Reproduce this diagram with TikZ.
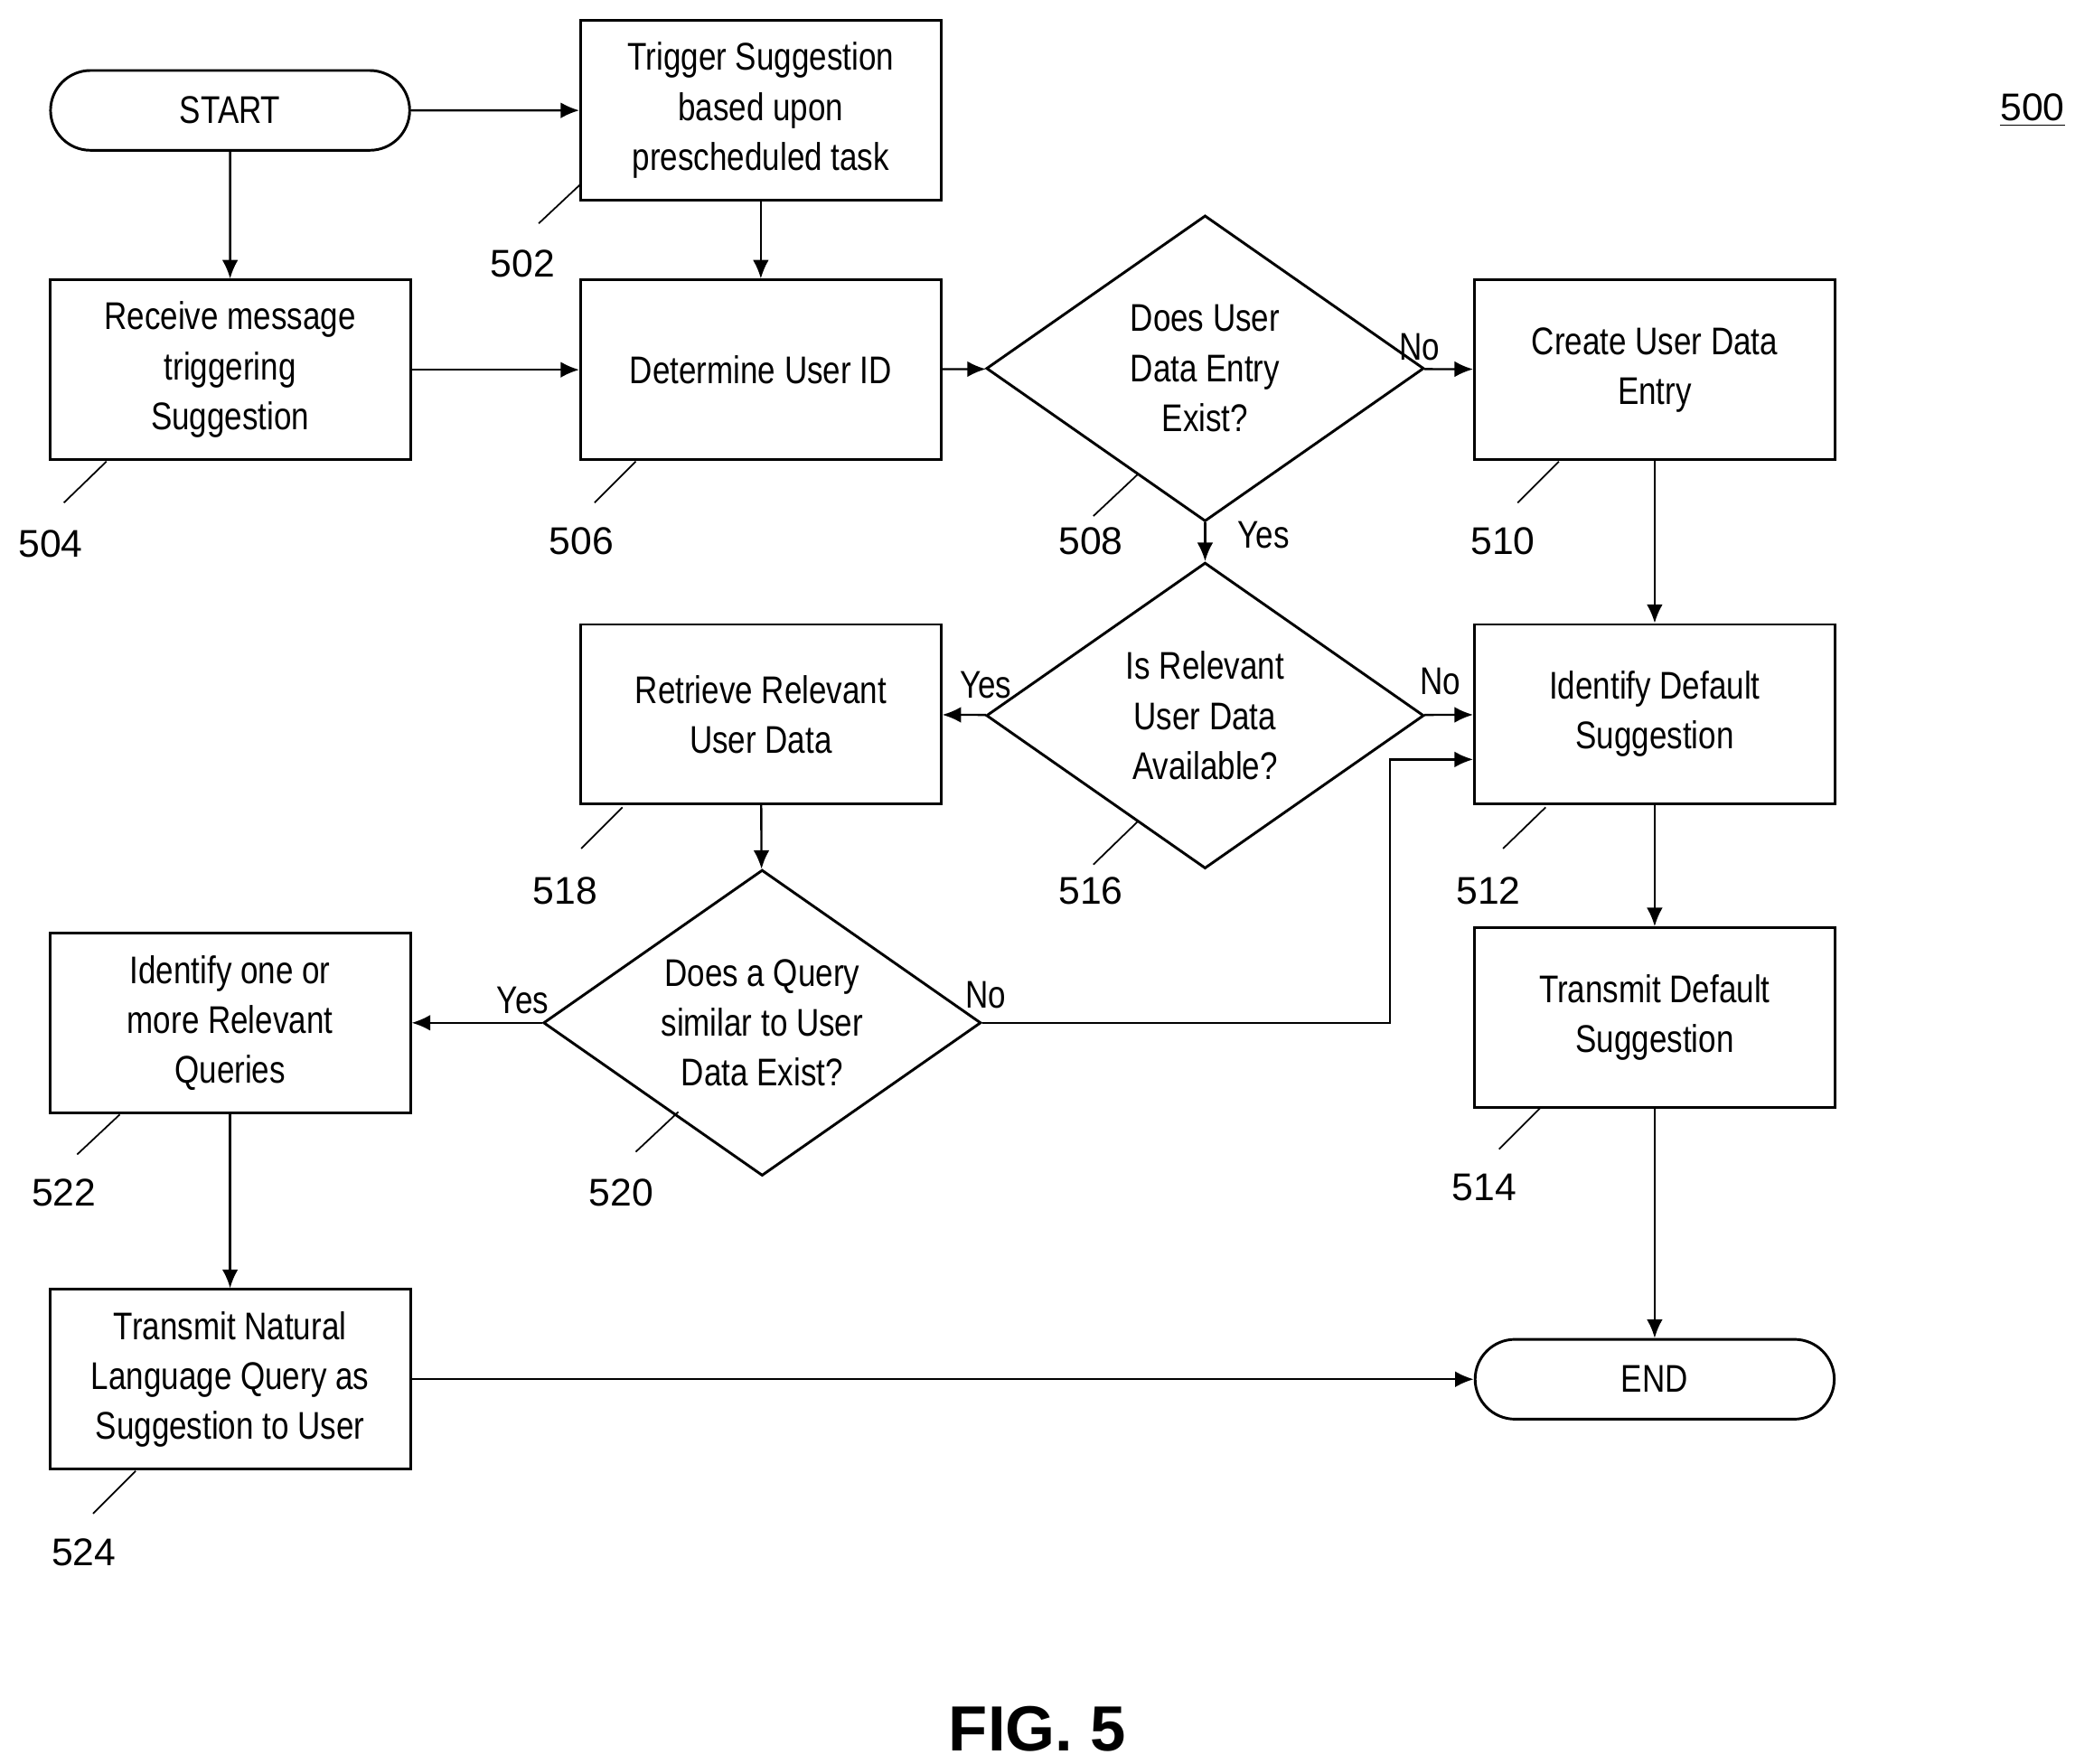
\documentclass[tikz,border=0pt]{standalone}
\usepackage{fontspec}
\setmainfont{Liberation Sans}[FakeStretch=0.82]
\newfontfamily\numfont{Liberation Sans}
\usetikzlibrary{shapes.geometric,shapes.misc,arrows.meta}
\begin{document}
\begin{tikzpicture}[x=0.5pt,y=-0.5pt,
    every node/.style={font=\fontsize{14.5}{18.75}\selectfont, align=center},
    block/.style={draw, line width=1pt, minimum width=135.5pt, minimum height=67.5pt, inner sep=0pt},
    term/.style={draw, line width=1pt, rounded rectangle, minimum width=135pt, minimum height=30pt, inner sep=0pt},
    test/.style={draw, line width=1pt, diamond, aspect=1.43, minimum width=164.5pt, minimum height=115pt, inner sep=0pt},
    num/.style={font=\numfont\fontsize{14.5}{17}\selectfont},
    answer/.style={font=\fontsize{14.5}{17}\selectfont},
    flow/.style={line width=0.8pt, -{Latex[length=7pt,width=6pt]}},
    lead/.style={line width=0.6pt}]
\useasboundingbox (0,0) rectangle (1560,1326);
% blocks
\node[term] (start) at (173,83) {START};
\node[block] (s502) at (572,83) {Trigger Suggestion\\based upon\\prescheduled task};
\node[block] (s504) at (173,278) {Receive message\\triggering\\Suggestion};
\node[block] (s506) at (572,278) {Determine User ID};
\node[test] (s508) at (906,277) {Does User\\Data Entry\\Exist?};
\node[block] (s510) at (1244,278) {Create User Data\\Entry};
\node[test] (s516) at (906,538) {Is Relevant\\User Data\\Available?};
\node[block] (s518) at (572,537) {Retrieve Relevant\\User Data};
\node[block] (s512) at (1244,537) {Identify Default\\Suggestion};
\node[test] (s520) at (573,769) {Does a Query\\similar to User\\Data Exist?};
\node[block] (s522) at (173,769) {Identify one or\\more Relevant\\Queries};
\node[block] (s514) at (1244,765) {Transmit Default\\Suggestion};
\node[block] (s524) at (173,1037) {Transmit Natural\\Language Query as\\Suggestion to User};
\node[term] (stop) at (1244,1037) {END};
% connectors
\draw[flow] (start) -- (s502);
\draw[flow] (start) -- (s504);
\draw[flow] (s502) -- (s506);
\draw[flow] (s504) -- (s506);
\draw[flow] (s506) -- (s508);
\draw[flow] (s508) -- (s510);
\draw[flow] (s508) -- (s516);
\draw[flow] (s510) -- (s512);
\draw[flow] (s516) -- (s512);
\draw[flow] (s516) -- (s518);
\draw[flow] (s518) -- (s520);
\draw[flow] (s520) -- (s522);
\coordinate (bend) at (1045,571);
\draw[flow] (s520.east) -| (bend) -- (s512.west |- bend);
\draw[flow] (s512) -- (s514);
\draw[flow] (s514) -- (stop);
\draw[flow] (s522) -- (s524);
\draw[flow] (s524) -- (stop);
% answers
\node[answer] (y508) at (950,402) {Yes};
\node[answer] (n508) at (1067,261) {No};
\node[answer] (y516) at (741,515) {Yes};
\node[answer] (n516) at (1083,512) {No};
\node[answer] (y520) at (393,752) {Yes};
\node[answer] (n520) at (741,748) {No};
% reference numbers
\foreach \lbl/\ax/\ay/\bx/\by/\tx/\ty in {502/437/138/405/168/393/198, 504/80/347/48/378/38/409,
    506/478/347/447/378/437/407, 508/855/357/822/388/820/407, 510/1172/347/1141/378/1130/407,
    518/468/607/437/638/425/670, 516/855/618/822/650/820/670, 512/1162/607/1130/638/1119/670,
    522/90/838/58/868/48/897, 520/510/836/478/866/467/897, 514/1158/833/1127/864/1116/893,
    524/102/1106/70/1138/63/1167}{
  \draw[lead] (\ax,\ay) -- (\bx,\by);
  \node[num] (r\lbl) at (\tx,\ty) {\lbl};
}
\node[num] (fig) at (1528,83) {\underline{500}};
\node[font=\numfont\bfseries\fontsize{24}{28}\selectfont] (title) at (780,1300) {FIG. 5};
\end{tikzpicture}
\end{document}
